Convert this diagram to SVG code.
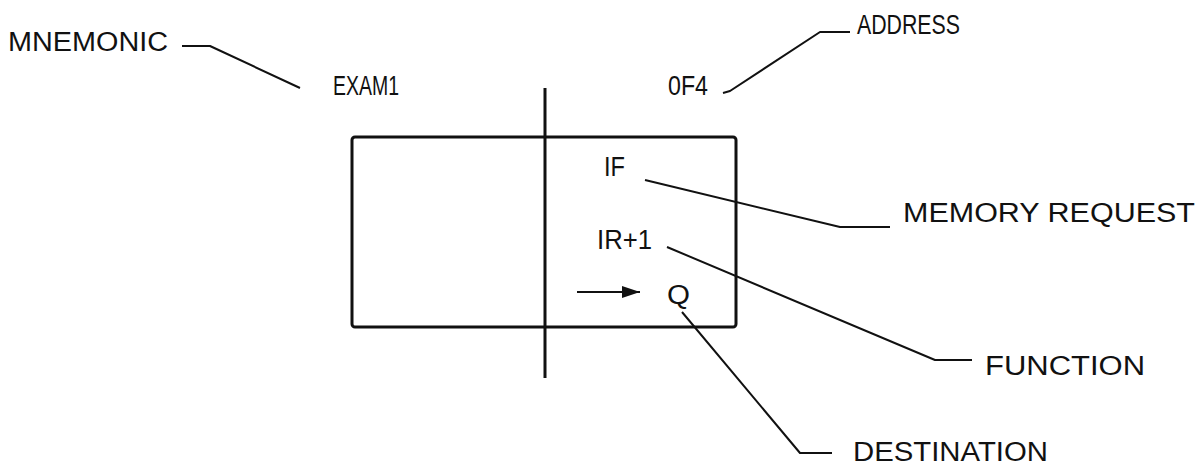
<svg xmlns="http://www.w3.org/2000/svg" width="1204" height="470" viewBox="0 0 1204 470">
<style>
text{font-family:"Liberation Sans","DejaVu Sans",sans-serif;font-size:27px;fill:#111;}
.lead{fill:none;stroke:#111;stroke-width:2;stroke-linejoin:round;}
.heavy{fill:none;stroke:#111;stroke-width:3;}
</style>
<defs>
<marker id="ahbig" viewBox="0 0 18 12" markerWidth="18" markerHeight="12" refX="18" refY="6" orient="auto" markerUnits="userSpaceOnUse">
<path d="M0,0 L18,6 L0,12 Z" fill="#111"/>
</marker>
</defs>
<rect width="1204" height="470" fill="#fff"/>
<g id="instruction-box">
<rect class="heavy" x="352" y="137" width="384" height="190" rx="3"/>
<line class="heavy" x1="545" y1="88" x2="545" y2="378"/>
</g>
<g id="mnemonic"><text x="8" y="51" textLength="160" lengthAdjust="spacingAndGlyphs">MNEMONIC</text></g>
<g id="exam1"><text x="333" y="95" textLength="66" lengthAdjust="spacingAndGlyphs">EXAM1</text></g>
<g id="of4"><text x="668" y="95" textLength="40" lengthAdjust="spacingAndGlyphs">0F4</text></g>
<g id="address"><text x="857" y="34" textLength="103" lengthAdjust="spacingAndGlyphs">ADDRESS</text></g>
<g id="if"><text x="604" y="176" textLength="21" lengthAdjust="spacingAndGlyphs">IF</text></g>
<g id="ir1"><text x="597" y="249" textLength="55" lengthAdjust="spacingAndGlyphs">IR+1</text></g>
<g id="q"><text x="667" y="304" textLength="23" lengthAdjust="spacingAndGlyphs">Q</text></g>
<g id="memory-request"><text x="903" y="222" textLength="292" lengthAdjust="spacingAndGlyphs">MEMORY REQUEST</text></g>
<g id="function"><text x="985" y="375" textLength="160" lengthAdjust="spacingAndGlyphs">FUNCTION</text></g>
<g id="destination"><text x="853" y="461" textLength="195" lengthAdjust="spacingAndGlyphs">DESTINATION</text></g>
<g id="connectors">
<polyline class="lead" points="182,46 210,46 300,88"/>
<polyline class="lead" points="723,93 730,91 820,32 850,32"/>
<polyline class="lead" points="645,180 840,227 890,227"/>
<polyline class="lead" points="667,247 935,360 972,360"/>
<polyline class="lead" points="682,312 800,453 832,453"/>
<line class="lead" x1="577" y1="292" x2="640" y2="292" marker-end="url(#ahbig)"/>
</g>
</svg>
